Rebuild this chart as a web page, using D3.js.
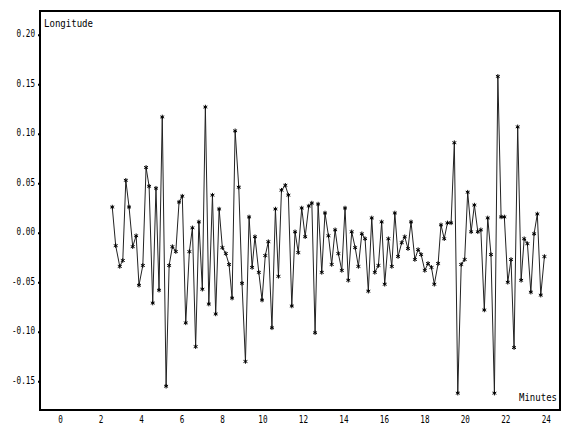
<!DOCTYPE html>
<html>
<head>
<meta charset="utf-8">
<title>Longitude</title>
<script src="https://d3js.org/d3.v7.min.js"></script>
<style>
  body { margin: 0; padding: 0; background: #fff; overflow: hidden; }
  svg { display: block; }
  .lbl { font-family: "DejaVu Sans Mono", monospace; font-size: 11px; fill: #000; }
</style>
</head>
<body>
<svg width="564" height="425"></svg>
<script>
// time in minutes
var minutes = [2.58,2.75,2.95,3.10,3.25,3.41,3.59,3.76,3.90,4.09,4.25,4.40,4.58,4.74,4.89,5.05,5.24,5.39,5.55,5.72,
  5.88,6.04,6.21,6.39,6.54,6.70,6.86,7.03,7.18,7.35,7.53,7.69,7.86,8.02,8.19,8.35,8.50,8.65,8.83,8.99,
  9.16,9.34,9.49,9.63,9.82,9.98,10.14,10.29,10.47,10.64,10.79,10.94,11.13,11.28,11.45,11.61,11.77,11.94,12.11,12.29,
  12.44,12.60,12.75,12.93,13.09,13.26,13.42,13.59,13.75,13.92,14.08,14.24,14.41,14.58,14.74,14.91,15.07,15.23,15.40,15.55,
  15.73,15.89,16.04,16.22,16.39,16.54,16.70,16.88,17.03,17.19,17.34,17.53,17.69,17.84,18.02,18.18,18.35,18.49,18.68,18.82,
  18.98,19.14,19.32,19.48,19.65,19.82,19.99,20.14,20.31,20.47,20.64,20.79,20.96,21.13,21.29,21.46,21.63,21.79,21.95,22.12,
  22.28,22.43,22.61,22.78,22.93,23.09,23.26,23.42,23.58,23.75,23.93];
var longitude = [0.026,-0.013,-0.034,-0.028,0.053,0.026,-0.014,-0.003,-0.053,-0.033,0.066,0.047,-0.071,0.045,-0.058,0.117,-0.155,-0.033,-0.014,-0.019,
  0.031,0.037,-0.091,-0.019,0.005,-0.115,0.011,-0.057,0.127,-0.072,0.038,-0.082,0.024,-0.015,-0.021,-0.032,-0.066,0.103,0.046,-0.051,
  -0.130,0.016,-0.035,-0.004,-0.040,-0.068,-0.023,-0.009,-0.096,0.024,-0.044,0.043,0.048,0.038,-0.074,0.001,-0.020,0.025,-0.004,0.027,
  0.030,-0.101,0.029,-0.040,0.020,-0.003,-0.032,0.003,-0.021,-0.038,0.025,-0.048,0.001,-0.015,-0.034,-0.001,-0.006,-0.059,0.015,-0.040,
  -0.033,0.011,-0.052,-0.006,-0.034,0.020,-0.024,-0.010,-0.004,-0.016,0.011,-0.027,-0.017,-0.022,-0.038,-0.031,-0.035,-0.052,-0.031,0.008,
  -0.006,0.010,0.010,0.091,-0.162,-0.032,-0.027,0.041,0.001,0.028,0.001,0.003,-0.078,0.015,-0.022,-0.162,0.158,0.016,0.016,-0.050,
  -0.027,-0.116,0.107,-0.048,-0.006,-0.011,-0.060,-0.001,0.019,-0.063,-0.024];
var xTicks = [0,2,4,6,8,10,12,14,16,18,20,22,24];
var yTicks = [0.20,0.15,0.10,0.05,0.00,-0.05,-0.10,-0.15];
var yTickLabels = ["0.20","0.15","0.10","0.05","0.00","-0.05","-0.10","-0.15"];

var svg = d3.select('svg');
var plotLeft = 40, plotRight = 560, plotTop = 11, plotBottom = 410;

var x = d3.scaleLinear().domain([-0.99, 24.7]).range([plotLeft, plotRight]);
var y = d3.scaleLinear().domain([-0.179, 0.224]).range([plotBottom, plotTop]);

// frame
svg.append('rect')
  .attr('x', plotLeft).attr('y', plotTop)
  .attr('width', plotRight - plotLeft).attr('height', plotBottom - plotTop)
  .attr('fill', 'none').attr('stroke', '#000').attr('stroke-width', 2);

var yAxis = svg.append('g')
  .attr('transform', 'translate(' + plotLeft + ',0)')
  .call(d3.axisLeft(y).tickValues(yTicks).tickSize(2).tickPadding(3)
    .tickFormat(function(d, i) { return yTickLabels[i]; }));
yAxis.select('.domain').remove();
yAxis.selectAll('line').attr('stroke', '#000').attr('stroke-width', 2);
yAxis.selectAll('text')
  .attr('class', 'lbl')
  .attr('dy', '0.2em')
  .attr('textLength', function(d, i) { return yTickLabels[i].length * 4.6; })
  .attr('lengthAdjust', 'spacingAndGlyphs');
yAxis.attr('font-family', null).attr('font-size', null);

var xAxis = svg.append('g')
  .attr('transform', 'translate(0,' + plotBottom + ')')
  .call(d3.axisBottom(x).tickValues(xTicks).tickSize(0).tickPadding(5));
xAxis.select('.domain').remove();
xAxis.selectAll('text')
  .attr('class', 'lbl')
  .attr('textLength', function(d) { return String(d).length * 4.6; })
  .attr('lengthAdjust', 'spacingAndGlyphs');
xAxis.attr('font-family', null).attr('font-size', null);

var pts = minutes.map(function(t, i) { return [t, longitude[i]]; });

svg.append('path')
  .datum(pts)
  .attr('fill', 'none')
  .attr('stroke', '#222')
  .attr('stroke-width', 1)
  .attr('d', d3.line().x(function(d) { return x(d[0]); }).y(function(d) { return y(d[1]); }));

svg.selectAll('.mark')
  .data(pts)
  .enter().append('path')
  .attr('class', 'mark')
  .attr('transform', function(d) { return 'translate(' + x(d[0]) + ',' + y(d[1]) + ')'; })
  .attr('d', d3.symbol(d3.symbolAsterisk, 14))
  .attr('fill', 'none')
  .attr('stroke', '#000')
  .attr('stroke-width', 1);

svg.append('text')
  .attr('class', 'lbl')
  .attr('x', 44).attr('y', 27)
  .attr('textLength', 49).attr('lengthAdjust', 'spacingAndGlyphs')
  .text('Longitude');

svg.append('text')
  .attr('class', 'lbl')
  .attr('x', 519).attr('y', 401)
  .attr('textLength', 38).attr('lengthAdjust', 'spacingAndGlyphs')
  .text('Minutes');
</script>
</body>
</html>
